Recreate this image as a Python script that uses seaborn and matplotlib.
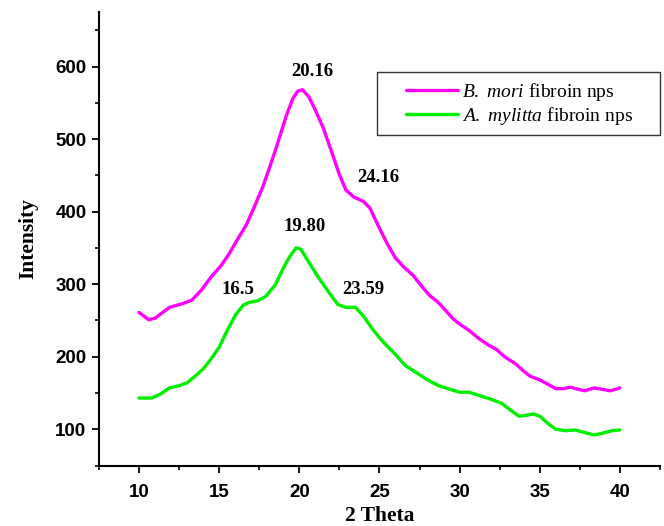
import numpy as np
import pandas as pd
import matplotlib
matplotlib.use("Agg")
import matplotlib.pyplot as plt
import seaborn as sns
from matplotlib.ticker import MultipleLocator
from matplotlib.lines import Line2D
from matplotlib.legend_handler import HandlerLine2D

# Data
bmori_x = [10.0, 10.6, 11.0, 11.9, 12.7, 13.3, 13.9, 14.5, 15.1, 15.6, 16.1, 16.7, 17.2, 17.7, 18.1,
           18.5, 18.9, 19.2, 19.6, 19.9, 20.2, 20.6, 21.0, 21.5, 22.1, 22.5, 22.9, 23.4, 24.0, 24.4,
           25.0, 25.5, 26.0, 26.5, 27.1, 27.6, 28.1, 28.7, 29.2, 29.6, 30.0, 30.6, 31.2, 31.8, 32.3,
           32.8, 33.5, 34.0, 34.4, 35.0, 35.5, 36.0, 36.5, 36.9, 37.4, 37.8, 38.4, 38.9, 39.4, 40.0]
bmori_y = [261, 251, 253, 268, 273, 278, 292, 310, 325, 341, 360, 382, 407, 433, 458,
           484, 512, 533, 556, 566, 568, 558, 540, 515, 477, 451, 430, 420, 414, 405,
           377, 355, 336, 324, 312, 298, 285, 274, 262, 252, 245, 236, 225, 216, 210,
           200, 190, 180, 173, 168, 162, 156, 156, 158, 155, 153, 157, 155, 153, 157]

amyl_x = [10.0, 10.8, 11.3, 11.9, 12.5, 13.0, 13.6, 14.0, 14.5, 15.0, 15.5, 16.0, 16.5, 16.9, 17.4,
          17.9, 18.5, 19.0, 19.4, 19.8, 20.1, 20.6, 21.2, 21.9, 22.4, 22.9, 23.5, 24.0, 24.6, 25.2,
          26.0, 26.6, 27.3, 28.0, 28.7, 29.4, 30.0, 30.6, 31.3, 32.0, 32.6, 33.2, 33.7, 34.1, 34.6,
          35.0, 35.5, 36.0, 36.6, 37.2, 37.7, 38.4, 39.0, 39.5, 40.0]
amyl_y = [143, 143, 148, 157, 160, 164, 175, 183, 197, 213, 236, 257, 271, 275, 277,
          283, 299, 322, 338, 350, 348, 330, 309, 287, 272, 268, 268, 256, 237, 221,
          203, 188, 178, 168, 160, 155, 151, 151, 146, 141, 136, 126, 118, 119, 121,
          118, 108, 100, 98, 99, 96, 92, 95, 98, 99]

series_names = ["B. mori fibroin nps", "A. mylitta fibroin nps"]
legend_labels = [r"$\mathit{B.}$ $\mathit{mori}$ fibroin nps",
                 r"$\mathit{A.}$ $\mathit{mylitta}$ fibroin nps"]
peak_labels = ["20.16", "24.16", "19.80", "16.5", "23.59"]
peak_x = [20.8, 24.9, 20.3, 16.2, 24.0]
peak_y = [593, 447, 380, 293, 293]
colors = ["#ff00ff", "#00ee00"]

df = pd.concat([
    pd.DataFrame({"x": bmori_x, "y": bmori_y, "s": series_names[0]}),
    pd.DataFrame({"x": amyl_x, "y": amyl_y, "s": series_names[1]}),
])

sns.set_style("white")
plt.rcParams.update({
    "mathtext.fontset": "custom",
    "mathtext.it": "Liberation Serif:italic",
    "mathtext.rm": "Liberation Serif",
    "text.color": "black",
    "axes.labelcolor": "black",
    "xtick.color": "black",
    "ytick.color": "black",
})

fig = plt.figure(figsize=(6.64, 5.26), dpi=100)
ax = fig.add_axes([0.149, 0.115, 0.845, 0.862])

sns.lineplot(data=df, x="x", y="y", hue="s", palette=colors,
             linewidth=2.4, ax=ax, legend=False, sort=True)
for ln in ax.get_lines():
    ln.set_solid_joinstyle("round")
    ln.set_solid_capstyle("round")

ax.set_xlim(7.5, 42.5)
ax.set_ylim(50, 675)
ax.set_xticks([10, 15, 20, 25, 30, 35, 40])
ax.set_yticks([100, 200, 300, 400, 500, 600])
ax.xaxis.set_minor_locator(MultipleLocator(2.5))
ax.yaxis.set_minor_locator(MultipleLocator(50))

for s in ["top", "right"]:
    ax.spines[s].set_visible(False)
for s in ["left", "bottom"]:
    ax.spines[s].set_color("black")
    ax.spines[s].set_linewidth(1.5)

ax.tick_params(axis="both", which="major", direction="out", length=5, width=1.3,
               color="black", labelsize=13.5)
ax.tick_params(axis="x", which="major", pad=8)
ax.tick_params(axis="y", which="major", pad=4)
ax.tick_params(axis="both", which="minor", direction="out", length=3, width=1.2, color="black")
ax.tick_params(axis="x", which="both", bottom=True)
ax.tick_params(axis="y", which="both", left=True)
for lab in ax.get_xticklabels() + ax.get_yticklabels():
    lab.set_fontfamily("Liberation Sans")
    lab.set_fontweight("bold")

ax.set_xlabel("2 Theta", fontfamily="Liberation Serif", fontweight="bold", fontsize=15.5, labelpad=4)
ax.set_ylabel("Intensity", fontfamily="Liberation Serif", fontweight="bold", fontsize=15.5, labelpad=12)

for t, x, y in zip(peak_labels, peak_x, peak_y):
    ax.text(x, y, t, ha="center", va="center", fontfamily="Liberation Serif",
            fontweight="bold", fontsize=13.5, color="black")


class LeadHandler(HandlerLine2D):
    """Line handle with some blank lead space on its left."""
    def create_artists(self, legend, orig_handle, xdescent, ydescent, width, height,
                       fontsize, trans):
        lead = 1.05 * fontsize
        return super().create_artists(legend, orig_handle, xdescent - lead, ydescent,
                                      width - lead, height, fontsize, trans)


handles = [Line2D([], [], color=c, linewidth=2.4) for c in colors]
leg = ax.legend(handles, legend_labels, loc="upper left",
                bbox_to_anchor=(0.495, 0.0, 0.505, 0.868), mode="expand",
                frameon=True, fancybox=False, shadow=False, handlelength=3.75,
                handler_map={Line2D: LeadHandler()},
                prop={"family": "Liberation Serif", "size": 14},
                borderpad=0.45, labelspacing=0.1, handletextpad=0.2, borderaxespad=0)
leg.get_frame().set_edgecolor("black")
leg.get_frame().set_linewidth(1.0)

fig.savefig("out.png", dpi=100)
